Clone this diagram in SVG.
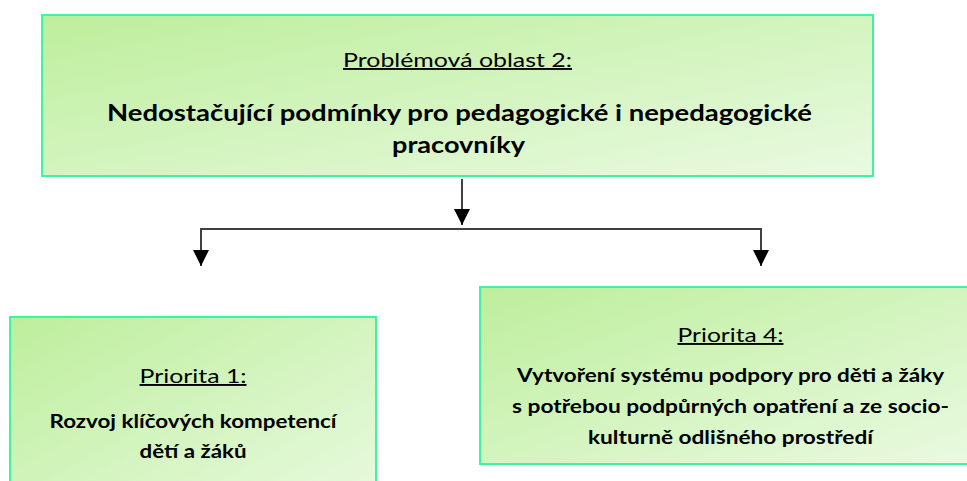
<svg xmlns="http://www.w3.org/2000/svg" width="967" height="481" viewBox="0 0 967 481">
  <defs>
    <linearGradient id="g" x1="0" y1="0" x2="1" y2="1">
      <stop offset="0" stop-color="#bdee9c"/>
      <stop offset="1" stop-color="#eafae2"/>
    </linearGradient>
    <marker id="ah" markerWidth="16" markerHeight="16" viewBox="0 0 16 16" refX="16" refY="8" orient="auto-start-reverse" markerUnits="userSpaceOnUse">
      <path d="M0,0 L16,8 L0,16 Z" fill="#000"/>
    </marker>
    <style>
      .box { fill: url(#g); stroke: #3cf5a0; stroke-width: 2; }
      .t { font-family: Lato, "Open Sans", "Liberation Sans", sans-serif; fill: #000; text-anchor: middle; }
      .h { font-size: 19px; text-decoration: underline; }
      .b { font-weight: bold; }
      .conn { fill: none; stroke: #404040; stroke-width: 2; }
    </style>
  </defs>
  <rect width="967" height="481" fill="#fff"/>
  <g id="node-top">
    <rect class="box" x="42" y="15" width="831" height="161"/>
    <text class="t h" x="457.5" y="67" textLength="229" lengthAdjust="spacingAndGlyphs">Problémová oblast 2:</text>
    <text class="t b" x="459.5" y="121" font-size="23.5" textLength="705" lengthAdjust="spacingAndGlyphs">Nedostačující podmínky pro pedagogické i nepedagogické</text>
    <text class="t b" x="458.5" y="153" font-size="23.5" textLength="133" lengthAdjust="spacingAndGlyphs">pracovníky</text>
  </g>
  <g id="node-p1">
    <rect class="box" x="10" y="317" width="366" height="200"/>
    <text class="t h" x="193" y="383" textLength="107" lengthAdjust="spacingAndGlyphs">Priorita 1:</text>
    <text class="t b" x="193" y="428" font-size="18.5" textLength="287" lengthAdjust="spacingAndGlyphs">Rozvoj klíčových kompetencí</text>
    <text class="t b" x="193" y="458" font-size="18.5" textLength="107" lengthAdjust="spacingAndGlyphs">dětí a žáků</text>
  </g>
  <g id="node-p4">
    <rect class="box" x="480" y="287" width="501" height="177"/>
    <text class="t h" x="730.5" y="342" textLength="106" lengthAdjust="spacingAndGlyphs">Priorita 4:</text>
    <text class="t b" x="730.5" y="382" font-size="18.5" textLength="427" lengthAdjust="spacingAndGlyphs">Vytvoření systému podpory pro děti a žáky</text>
    <text class="t b" x="730.5" y="412.5" font-size="18.5" textLength="437" lengthAdjust="spacingAndGlyphs">s potřebou podpůrných opatření a ze socio-</text>
    <text class="t b" x="730.5" y="443.5" font-size="18.5" textLength="285" lengthAdjust="spacingAndGlyphs">kulturně odlišného prostředí</text>
  </g>
  <g id="connectors">
    <path class="conn" d="M462,179 L462,225" marker-end="url(#ah)"/>
    <path class="conn" d="M201,266 L201,229 L761,229 L761,266" marker-start="url(#ah)" marker-end="url(#ah)"/>
  </g>
</svg>
